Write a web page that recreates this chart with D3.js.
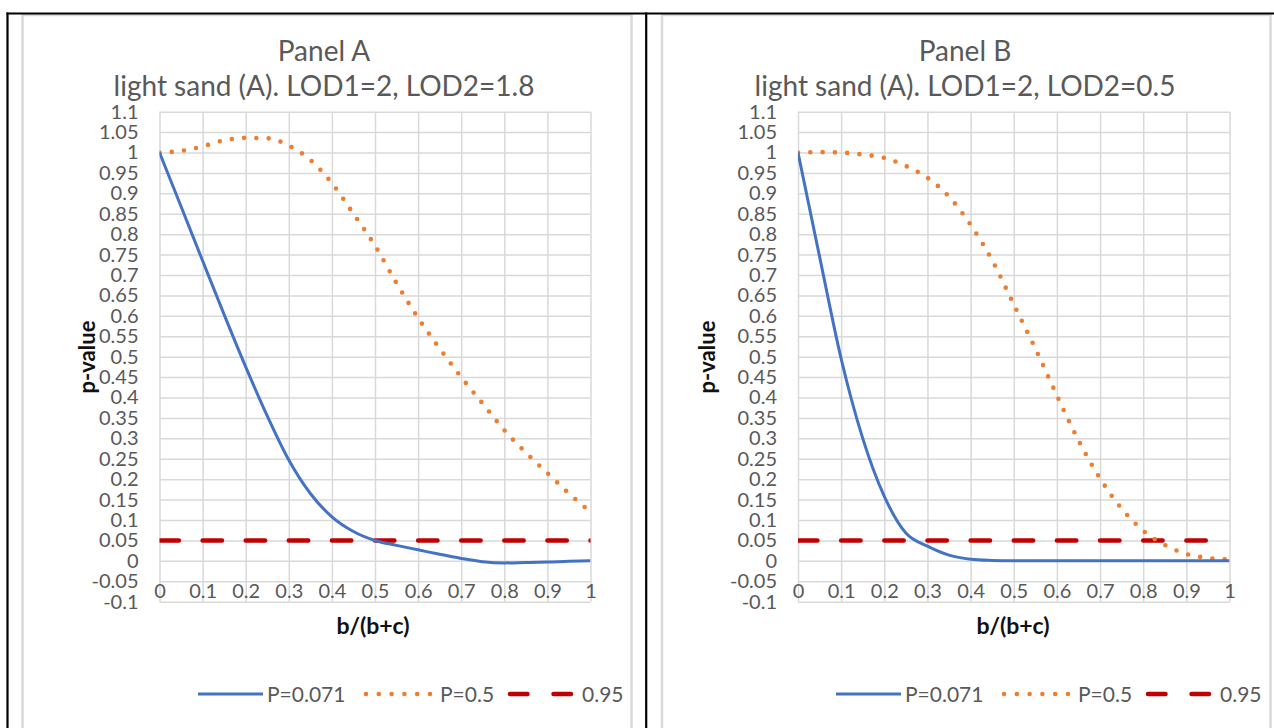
<!DOCTYPE html>
<html>
<head>
  <meta charset="utf-8">
  <title>p-value panels</title>
  <script src="https://d3js.org/d3.v7.min.js"></script>
  <style>
    body { margin: 0; background: #fff; }
    svg { display: block; }
    text { font-family: Lato, "Open Sans", sans-serif; }
  </style>
</head>
<body>
  <svg id="chart"></svg>
  <script>

    // x positions shared by all series, b/(b+c)
    const xVals = [0, 0.05, 0.1, 0.15, 0.2, 0.25, 0.3, 0.35, 0.4, 0.45, 0.5,
                   0.55, 0.6, 0.65, 0.7, 0.75, 0.8, 0.85, 0.9, 0.95, 1];

    // Panel A, LOD2=1.8
    const blueA   = [1.0, 0.868, 0.735, 0.603, 0.475, 0.355, 0.247, 0.165, 0.108, 0.072, 0.050,
                     0.038, 0.027, 0.016, 0.006, -0.002, -0.005, -0.004, -0.003, -0.001, 0.0];
    const orangeA = [1.0, 1.004, 1.015, 1.030, 1.036, 1.035, 1.017, 0.982, 0.925, 0.85, 0.772,
                     0.68, 0.595, 0.52, 0.45, 0.385, 0.32, 0.265, 0.215, 0.165, 0.12];

    // Panel B, LOD2=0.5
    const blueB   = [1.0, 0.745, 0.495, 0.30, 0.158, 0.068, 0.036, 0.014, 0.004, 0.001, 0.0,
                     0, 0, 0, 0, 0, 0, 0, 0, 0, 0];
    const orangeB = [1.0, 1.001, 1.0, 0.995, 0.987, 0.967, 0.938, 0.892, 0.823, 0.736, 0.628,
                     0.52, 0.405, 0.295, 0.202, 0.128, 0.074, 0.039, 0.017, 0.007, 0.003];

    // the 0.95 reference line (p = 0.05)
    const threshold = 0.05;
    const redAX = [0, 1];
    const redBX = [0, 0.95];

    const yTicks = [-0.1, -0.05, 0, 0.05, 0.1, 0.15, 0.2, 0.25, 0.3, 0.35, 0.4, 0.45, 0.5,
                    0.55, 0.6, 0.65, 0.7, 0.75, 0.8, 0.85, 0.9, 0.95, 1, 1.05, 1.1];
    const xTicks = [0, 0.1, 0.2, 0.3, 0.4, 0.5, 0.6, 0.7, 0.8, 0.9, 1];

    const legendLabels = ["P=0.071", "P=0.5", "0.95"];

    const BLUE = "#4472C4", ORANGE = "#ED7D31", RED = "#C00000";
    const GRID = "#d9d9d9", LABEL = "#595959";

    const width = 1274, height = 728;
    const svg = d3.select("#chart").attr("width", width).attr("height", height);

    const panels = [
      { id: "A", title: "Panel A", subtitle: "light sand (A). LOD1=2, LOD2=1.8",
        blue: blueA, orange: orangeA, redX: redAX,
        box: [22.5, 631.5], plot: [159.5, 590.5], titleX: 324,
        yTitleX: 95, xTitleX: 373, legendX: 198 },
      { id: "B", title: "Panel B", subtitle: "light sand (A). LOD1=2, LOD2=0.5",
        blue: blueB, orange: orangeB, redX: redBX,
        box: [662, 1270.5], plot: [798, 1229.5], titleX: 965,
        yTitleX: 715, xTitleX: 1013, legendX: 836 }
    ];

    const fmt = d => String(+d.toFixed(2));

    panels.forEach(p => {
      const g = svg.append("g");

      // chart frame
      g.append("rect")
        .attr("x", p.box[0]).attr("y", 15)
        .attr("width", p.box[1] - p.box[0]).attr("height", 760)
        .attr("fill", "#fff").attr("stroke", GRID).attr("stroke-width", 2.5);

      // titles
      g.append("text").attr("x", p.titleX).attr("y", 61)
        .attr("text-anchor", "middle").attr("fill", LABEL).attr("font-size", 28)
        .text(p.title);
      g.append("text").attr("x", p.titleX).attr("y", 96)
        .attr("text-anchor", "middle").attr("fill", LABEL).attr("font-size", 28)
        .text(p.subtitle);

      const x = d3.scaleLinear().domain([0, 1]).range(p.plot);
      const y = d3.scaleLinear().domain([-0.1, 1.1]).range([601.7, 111.7]);
      const pw = p.plot[1] - p.plot[0];

      // gridlines
      g.append("g")
        .attr("transform", `translate(${p.plot[0]},0)`)
        .call(d3.axisLeft(y).tickValues(yTicks).tickSize(-pw).tickFormat(""))
        .call(a => a.select(".domain").remove())
        .call(a => a.selectAll("line").attr("stroke", GRID).attr("stroke-width", 1.5));
      g.append("g")
        .attr("transform", `translate(0,${y(-0.1)})`)
        .call(d3.axisBottom(x).tickValues(xTicks).tickSize(-(y(-0.1) - y(1.1))).tickFormat(""))
        .call(a => a.select(".domain").remove())
        .call(a => a.selectAll("line").attr("stroke", GRID).attr("stroke-width", 1.5));

      // tick labels
      g.append("g")
        .attr("transform", `translate(${p.plot[0]},0)`)
        .call(d3.axisLeft(y).tickValues(yTicks).tickSize(0).tickPadding(21).tickFormat(fmt))
        .call(a => a.select(".domain").remove())
        .call(a => a.selectAll("text").attr("fill", LABEL).attr("font-size", 20)
          .attr("font-family", "Lato, 'Open Sans', sans-serif"));
      g.append("g")
        .attr("transform", `translate(0,${y(0)})`)
        .call(d3.axisBottom(x).tickValues(xTicks).tickSize(0).tickPadding(23).tickFormat(fmt))
        .call(a => a.select(".domain").remove())
        .call(a => a.selectAll("text").attr("fill", LABEL).attr("font-size", 20)
          .attr("font-family", "Lato, 'Open Sans', sans-serif"));

      // axis titles
      g.append("text")
        .attr("transform", `translate(${p.yTitleX},357) rotate(-90)`)
        .attr("text-anchor", "middle").attr("font-weight", "bold").attr("font-size", 22)
        .attr("fill", "#111").text("p-value");
      g.append("text")
        .attr("x", p.xTitleX).attr("y", 634)
        .attr("text-anchor", "middle").attr("font-weight", "bold").attr("font-size", 23)
        .attr("fill", "#111").text("b/(b+c)");

      // series, clipped to the plot area
      const clipId = "clip" + p.id;
      g.append("clipPath").attr("id", clipId)
        .append("rect").attr("x", p.plot[0]).attr("y", y(1.1))
        .attr("width", pw).attr("height", y(-0.1) - y(1.1));
      const plotG = g.append("g").attr("clip-path", `url(#${clipId})`);

      const line = d3.line()
        .x((d, i) => x(xVals[i]))
        .y(d => y(d))
        .curve(d3.curveMonotoneX);

      const step = x(0.1) - x(0);
      plotG.append("path")
        .attr("d", d3.line().x(d => x(d)).y(() => y(threshold))(p.redX))
        .attr("fill", "none").attr("stroke", RED).attr("stroke-width", 4.5)
        .attr("stroke-linecap", "round")
        .attr("stroke-dasharray", `${0.45 * step} ${0.55 * step}`);

      plotG.append("path")
        .attr("d", line(p.orange))
        .attr("fill", "none").attr("stroke", ORANGE).attr("stroke-width", 4.6)
        .attr("stroke-linecap", "round").attr("stroke-dasharray", "0 12.3");

      plotG.append("path")
        .attr("d", line(p.blue))
        .attr("fill", "none").attr("stroke", BLUE).attr("stroke-width", 3);

      // legend
      const ly = 694;
      const lx = p.legendX;
      const lg = g.append("g");
      lg.append("line").attr("x1", lx).attr("x2", lx + 65).attr("y1", ly).attr("y2", ly)
        .attr("stroke", BLUE).attr("stroke-width", 3);
      lg.append("line").attr("x1", lx + 168).attr("x2", lx + 233).attr("y1", ly).attr("y2", ly)
        .attr("stroke", ORANGE).attr("stroke-width", 4.6)
        .attr("stroke-linecap", "round").attr("stroke-dasharray", "0 12.8");
      lg.append("line").attr("x1", lx + 312).attr("x2", lx + 373).attr("y1", ly).attr("y2", ly)
        .attr("stroke", RED).attr("stroke-width", 4.5)
        .attr("stroke-linecap", "round").attr("stroke-dasharray", "17.5 26");
      const textX = [69, 242, 384];
      legendLabels.forEach((t, i) => {
        lg.append("text").attr("x", lx + textX[i]).attr("y", 701.5)
          .attr("fill", LABEL).attr("font-size", 21).text(t);
      });
    });

    // table borders
    const border = svg.append("g").attr("stroke", "#000").attr("stroke-width", 2.2);
    border.append("line").attr("x1", 6.5).attr("x2", width).attr("y1", 13.5).attr("y2", 13.5);
    border.append("line").attr("x1", 7.5).attr("x2", 7.5).attr("y1", 12.5).attr("y2", height);
    border.append("line").attr("x1", 646.2).attr("x2", 646.2).attr("y1", 12.5).attr("y2", height);

  </script>
</body>
</html>
